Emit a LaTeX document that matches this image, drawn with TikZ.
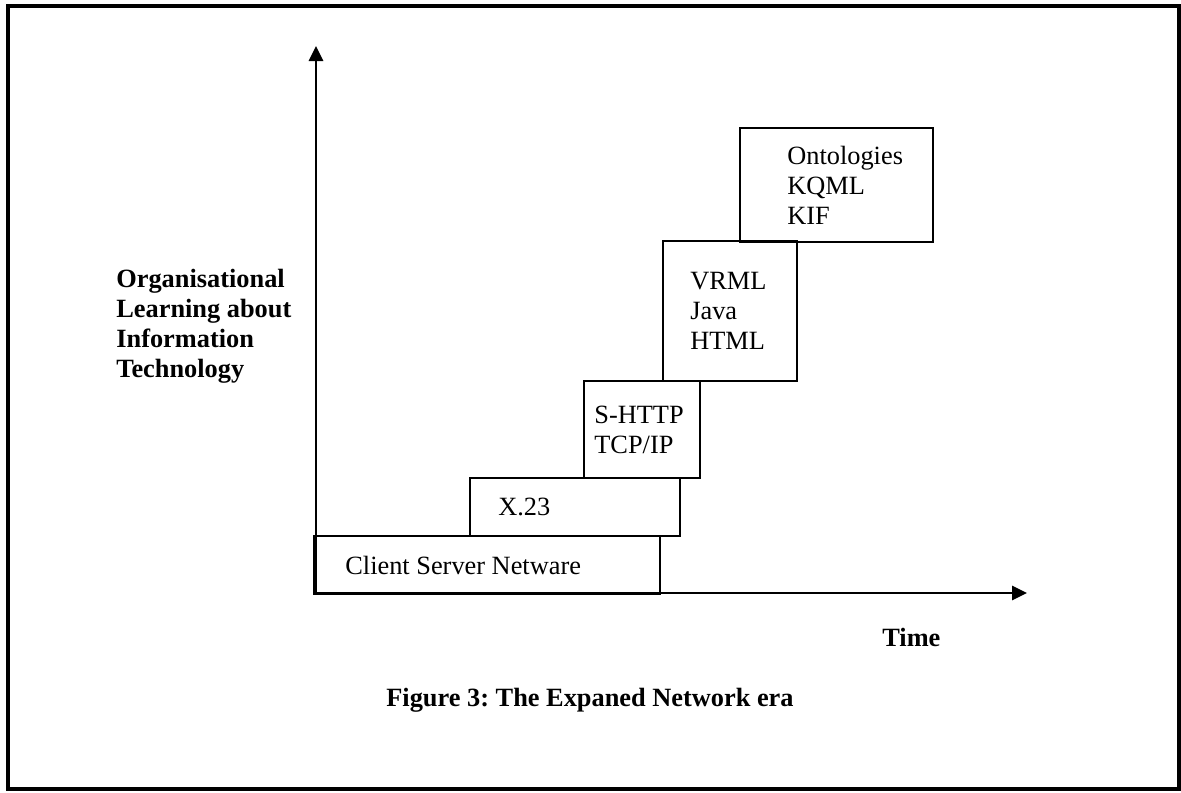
\documentclass[tikz,border=0pt]{standalone}
\usepackage{fontspec}
\setmainfont{Liberation Serif}
\frenchspacing
\usetikzlibrary{arrows.meta,positioning}
\tikzset{era/.style={rectangle,draw,line width=1.3pt,anchor=north west,inner sep=0pt},
	lbl/.style={align=left,inner sep=0pt,anchor=west,font=\fontsize{15}{17}\selectfont},
	axis/.style={line width=1.6pt,->,>={Triangle[length=0.3cm,width=0.28cm]}}}
\begin{document}
\begin{tikzpicture}[x=0.02cm,y=-0.02cm]
		\useasboundingbox (0,0) rectangle (1181,792);
		\draw[line width=2pt] (8,6) rectangle (1179,789);

		\coordinate (origin) at (316,593);
		\coordinate (ytop) at (316,46);
		\coordinate (xend) at (1027,593);

		\node[era,minimum width=6.92cm,minimum height=1.16cm] (client) at (313,535) {};
		\node[lbl,right=0.64cm of client.west] (clienttxt) {Client Server Netware};
		\node[era,minimum width=4.2cm,minimum height=1.16cm] (x23) at (469,477) {};
		\node[lbl,right=0.58cm of x23.west] (x23txt) {X.23};
		\node[era,minimum width=2.32cm,minimum height=1.94cm] (http) at (583,380) {};
		\node[lbl,right=0.22cm of http.west] (httptxt) {S-HTTP\\TCP/IP};
		\node[era,minimum width=2.68cm,minimum height=2.8cm] (web) at (662,240) {};
		\node[lbl,right=0.56cm of web.west] (webtxt) {VRML\\Java\\HTML};
		\node[era,minimum width=3.86cm,minimum height=2.28cm] (onto) at (739,127) {};
		\node[lbl,right=0.96cm of onto.west] (ontotxt) {Ontologies\\KQML\\KIF};

		\draw[axis] (origin) -- (ytop);
		\draw[axis] (origin) -- (xend);

		\node[lbl,font=\fontsize{15}{17}\selectfont\bfseries] (learning) at (116,326) {Organisational\\Learning about\\Information\\Technology};
		\node[lbl,font=\fontsize{15}{17}\selectfont\bfseries] (time) at (882,637) {Time};
		\node[lbl,anchor=center,font=\fontsize{15}{17}\selectfont\bfseries] (caption) at (590,700) {Figure 3: The Expaned Network era};
\end{tikzpicture}
\end{document}
